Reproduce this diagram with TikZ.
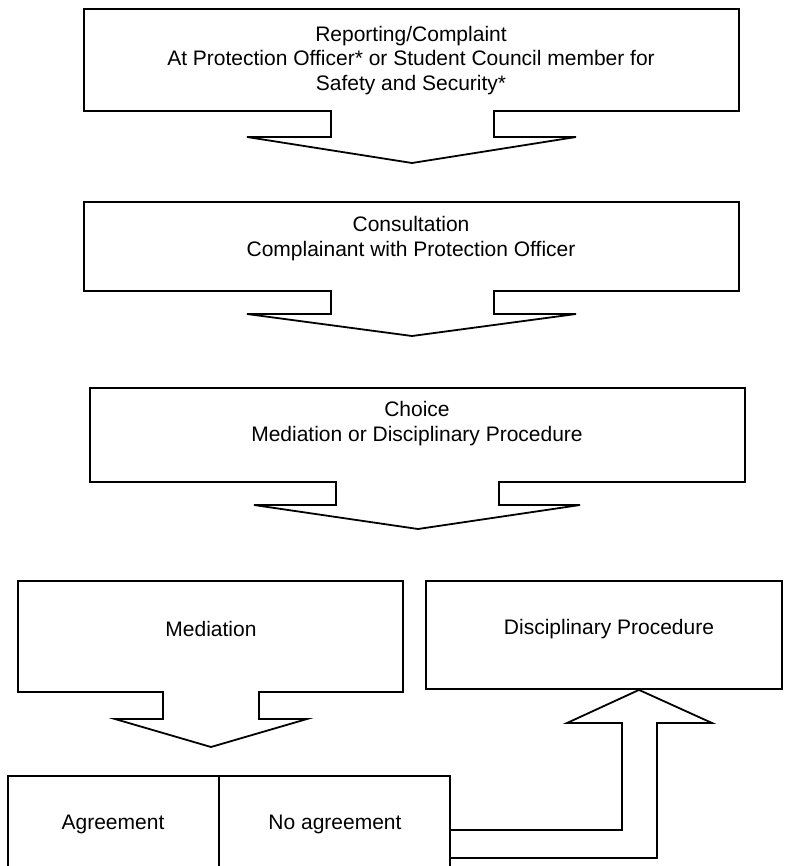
\documentclass[tikz,border=0pt]{standalone}
\usepackage{fontspec}
\setmainfont{Liberation Sans}
\begin{document}
\begin{tikzpicture}[x=1pt,y=-1pt,
  outline/.style={draw=black,line width=1.8pt,line join=miter,fill=none},
  label/.style={font=\fontsize{21}{24.3}\selectfont,align=center,inner sep=0pt,text=black}]
\useasboundingbox[fill=white] (0,0) rectangle (784,866);

% --- box 1 with down arrow
\draw[outline] (84,9) -- (739,9) -- (739,111) -- (494,111) -- (494,137) -- (576,137)
  -- (412,163) -- (247,137) -- (331,137) -- (331,111) -- (84,111) -- cycle;
\node[label] (t1) at (411,60.5) {Reporting/Complaint\\At Protection Officer* or Student Council member for\\Safety and Security*};

% --- box 2
\draw[outline] (84,202) -- (739,202) -- (739,291) -- (494,291) -- (494,314) -- (576,314)
  -- (412,336) -- (247,314) -- (331,314) -- (331,291) -- (84,291) -- cycle;
\node[label] (t2) at (411,238.5) {Consultation\\Complainant with Protection Officer};

% --- box 3
\draw[outline] (90,388) -- (745,388) -- (745,482) -- (499,482) -- (499,505) -- (580,505)
  -- (418,529) -- (254,505) -- (336,505) -- (336,482) -- (90,482) -- cycle;
\node[label] (t3) at (417,423.5) {Choice\\Mediation or Disciplinary Procedure};

% --- mediation
\draw[outline] (18,581) -- (403,581) -- (403,692) -- (259,692) -- (259,719) -- (307,719)
  -- (211,747) -- (115,719) -- (163,719) -- (163,692) -- (18,692) -- cycle;
\node[label] (med) at (211,629) {Mediation};

% --- disciplinary procedure
\node[outline,minimum width=356pt,minimum height=108pt,inner sep=0pt] (discbox) at (604,635) {};
\node[label] (disc) at (609,629) {Disciplinary Procedure};

% --- agreement / no agreement
\draw[outline] (8,868) -- (8,776) -- (450,776) -- (450,868);
\draw[outline] (219,776) -- (219,868);
\node[label] (agr) at (113,824) {Agreement};
\node[label] (noagr) at (335,824) {No agreement};

% --- block arrow from No agreement up to Disciplinary Procedure
\coordinate (tip) at (discbox.south -| 639,0);
\draw[outline] (450,830) -- (622,830) -- (622,723) -- (567,723) -- (tip)
  -- (712,723) -- (657,723) -- (657,858) -- (450,858);
\end{tikzpicture}
\end{document}
